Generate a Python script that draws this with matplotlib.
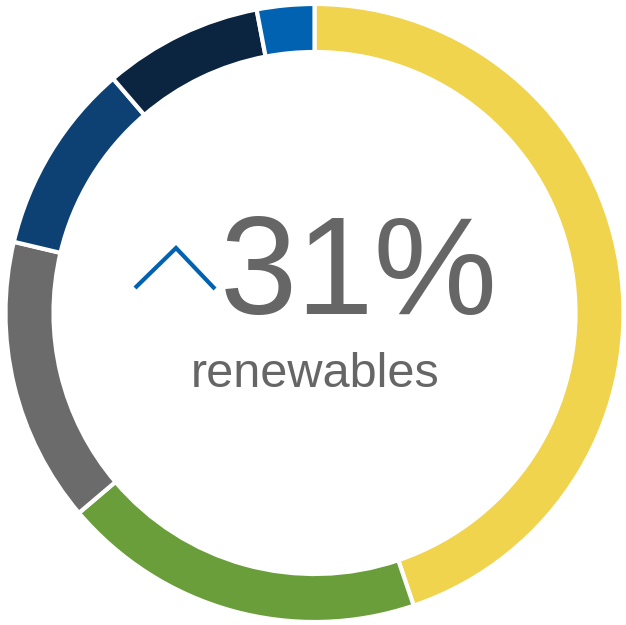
import matplotlib.pyplot as plt

# share of each source, clockwise from 12 o'clock
labels = ['Yellow', 'Green', 'Gray', 'Dark blue', 'Navy', 'Blue']
shares = [44.8, 19.0, 14.9, 10.0, 8.3, 3.0]
colors = ['#F0D44E', '#6A9E3A', '#6B6B6B', '#0E4173', '#0B2540', '#0062B0']

headline = '31%'
caption = 'renewables'

fig = plt.figure(figsize=(6.26, 6.25), dpi=100)
ax = fig.add_axes([0, 0, 1, 1])

ax.pie(shares, colors=colors, startangle=90, counterclock=False,
       center=(314.5, 312), radius=309, frame=True,
       wedgeprops=dict(width=48, edgecolor='white', linewidth=3))
ax.set_xlim(0, 626)
ax.set_ylim(0, 625)
ax.set_aspect('equal')
ax.axis('off')

# up chevron
ax.plot([135, 176, 215], [337, 377, 336], color='#0062B0', lw=3,
        solid_capstyle='butt', solid_joinstyle='miter')

ax.text(220, 311, headline, fontsize=100, color='#666666',
        family='Liberation Sans', ha='left', va='baseline')
ax.text(315, 238, caption, fontsize=35, color='#666666',
        family='Liberation Sans', ha='center', va='baseline')

fig.savefig('out.png', dpi=100, facecolor='white')
